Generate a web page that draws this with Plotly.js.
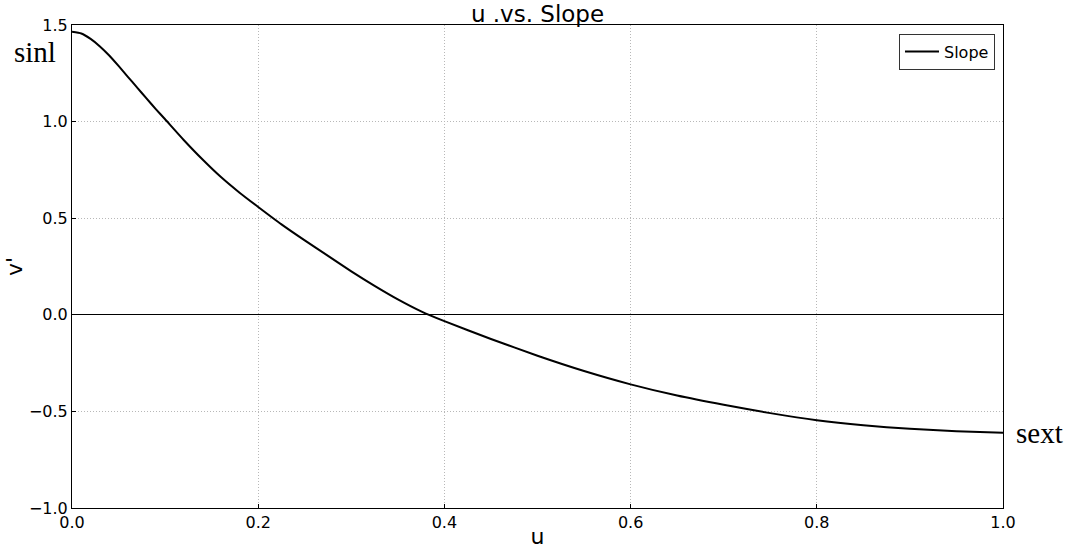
<!DOCTYPE html>
<html>
<head>
<meta charset="utf-8">
<script src="https://cdn.plot.ly/plotly-3.0.1.min.js"></script>
<style>html,body{margin:0;padding:0;background:#fff;}#chart{width:1070px;height:549px;}</style>
</head>
<body>
<div id="chart"></div>
<script>
const uValues = [0, 0.01, 0.02, 0.03, 0.04, 0.05, 0.06, 0.07, 0.08, 0.09, 0.1, 0.12, 0.14, 0.16, 0.18, 0.2, 0.225, 0.25, 0.275, 0.3, 0.325, 0.35, 0.375, 0.4, 0.45, 0.5, 0.55, 0.6, 0.65, 0.7, 0.75, 0.8, 0.85, 0.9, 0.95, 1.0];
const slopeValues = [1.465, 1.456, 1.428, 1.389, 1.342, 1.288, 1.232, 1.176, 1.12, 1.065, 1.012, 0.905, 0.805, 0.713, 0.632, 0.558, 0.468, 0.385, 0.305, 0.225, 0.15, 0.08, 0.018, -0.033, -0.125, -0.212, -0.291, -0.36, -0.418, -0.466, -0.509, -0.546, -0.572, -0.59, -0.603, -0.61];
const seriesName = 'Slope';
const xTicks = [0, 0.2, 0.4, 0.6, 0.8, 1.0];
const yTicks = [-1.0, -0.5, 0.0, 0.5, 1.0, 1.5];

const tickFont = {family: 'DejaVu Sans', size: 16, color: '#000'};
const trace = {
  x: uValues, y: slopeValues, name: seriesName, type: 'scatter', mode: 'lines',
  line: {color: '#000', width: 2, shape: 'spline', smoothing: 0.5}
};
const axisCommon = {
  showline: true, linecolor: '#000', linewidth: 1, mirror: true,
  showgrid: true, gridcolor: '#b8b8b8', griddash: '1px,2px', gridwidth: 1,
  ticks: 'inside', ticklen: 4, tickcolor: '#000',
  tickfont: tickFont, automargin: false
};
const layout = {
  width: 1070, height: 549,
  margin: {l: 72, r: 67, t: 25, b: 41},
  paper_bgcolor: '#fff', plot_bgcolor: '#fff',
  title: {text: 'u .vs. Slope', font: {family: 'DejaVu Sans', size: 23, color: '#000'},
          x: 0.5, xref: 'paper', xanchor: 'center', y: 0.975, yref: 'container', yanchor: 'middle'},
  xaxis: Object.assign({}, axisCommon, {
    range: [0, 1], tickvals: xTicks, ticktext: xTicks.map(v => v.toFixed(1)),
    zeroline: false,
    title: {text: 'u', font: {family: 'DejaVu Sans', size: 22, color: '#000'}, standoff: 2}
  }),
  yaxis: Object.assign({}, axisCommon, {
    range: [-1, 1.5], tickvals: yTicks, ticktext: yTicks.map(v => (v < 0 ? '\u2212' : '') + Math.abs(v).toFixed(1)),
    zeroline: true, zerolinecolor: '#000', zerolinewidth: 1,
    title: {text: "v'", font: {family: 'DejaVu Sans', size: 22, color: '#000'}, standoff: 0}
  }),
  showlegend: true,
  legend: {x: 0.9914, xanchor: 'right', y: 0.982, yanchor: 'top',
           bordercolor: '#333', borderwidth: 1, bgcolor: '#fff', itemwidth: 34,
           font: {family: 'DejaVu Sans', size: 16, color: '#000'}},
  annotations: [
    {text: 'sinl', xref: 'paper', yref: 'paper', x: -0.015, y: 0.945, xanchor: 'right', yanchor: 'middle',
     showarrow: false, font: {family: 'Liberation Serif', size: 29, color: '#000'}},
    {text: 'sext', xref: 'paper', yref: 'paper', x: 1.012, y: 0.155, xanchor: 'left', yanchor: 'middle',
     showarrow: false, font: {family: 'Liberation Serif', size: 29, color: '#000'}}
  ]
};
Plotly.newPlot('chart', [trace], layout, {displayModeBar: false, staticPlot: true});
</script>
</body>
</html>
